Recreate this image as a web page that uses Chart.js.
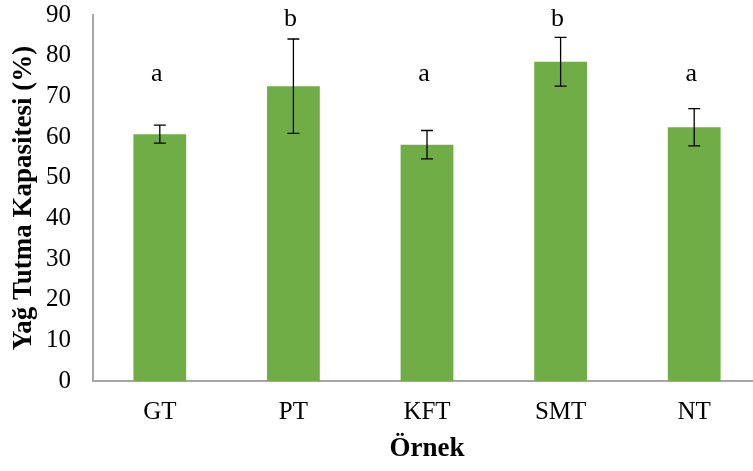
<!DOCTYPE html>
<html>
<head>
<meta charset="utf-8">
<script src="https://cdn.jsdelivr.net/npm/chart.js@4.4.1/dist/chart.umd.min.js"></script>
<style>
  html, body { margin: 0; padding: 0; background: #fff; overflow: hidden; }
  #wrap { width: 761px; height: 471px; }
</style>
</head>
<body>
<div id="wrap"><canvas id="c" width="761" height="471"></canvas></div>
<script>
// data
var categories = ["GT", "PT", "KFT", "SMT", "NT"];
var values = [60.7, 72.5, 58.1, 78.5, 62.4];
var errors = [2.2, 11.6, 3.5, 6.0, 4.6];
var letters = ["a", "b", "a", "b", "a"];
var yTicks = [0, 10, 20, 30, 40, 50, 60, 70, 80, 90];

var serif = "'Liberation Serif', 'Times New Roman', serif";

// error bars + significance letters
var extras = {
  id: "extras",
  afterDatasetsDraw: function (chart) {
    var ctx = chart.ctx;
    var x = chart.scales.x, y = chart.scales.y;
    ctx.save();
    ctx.strokeStyle = "#000";
    ctx.lineWidth = 1.3;
    for (var i = 0; i < values.length; i++) {
      var cx = x.getPixelForValue(i);
      var top = y.getPixelForValue(values[i] + errors[i]);
      var bot = y.getPixelForValue(values[i] - errors[i]);
      ctx.beginPath();
      ctx.moveTo(cx, top); ctx.lineTo(cx, bot);
      ctx.moveTo(cx - 6, top); ctx.lineTo(cx + 6, top);
      ctx.moveTo(cx - 6, bot); ctx.lineTo(cx + 6, bot);
      ctx.stroke();
    }
    ctx.fillStyle = "#000";
    ctx.font = "26px " + serif;
    ctx.textAlign = "center";
    ctx.textBaseline = "alphabetic";
    for (var j = 0; j < letters.length; j++) {
      var lv = letters[j] == "b" ? 87.3 : 73.7; // letter heights on the value axis
      ctx.fillText(letters[j], x.getPixelForValue(j) - 3, y.getPixelForValue(lv));
    }
    ctx.restore();
  }
};

new Chart(document.getElementById("c"), {
  type: "bar",
  data: {
    labels: categories,
    datasets: [{
      data: values,
      backgroundColor: "#70ad47",
      borderWidth: 0,
      barPercentage: 0.395,
      categoryPercentage: 1.0
    }]
  },
  options: {
    responsive: false,
    animation: false,
    layout: { padding: { top: 15, right: 0, left: 0, bottom: 0 } },
    plugins: { legend: { display: false }, tooltip: { enabled: false } },
    scales: {
      x: {
        grid: { display: false, drawTicks: false, tickLength: 0 },
        border: { display: true, color: "#a6a6a6", width: 2 },
        ticks: { color: "#000", font: { family: serif, size: 25 }, padding: 16 },
        title: {
          display: true, text: "Örnek", color: "#000",
          font: { family: serif, size: 27, weight: "bold" }, padding: { top: 0, bottom: 6 }
        },
        afterFit: function (s) { s.height = 90; s.paddingLeft = 0; s.paddingRight = 0; }
      },
      y: {
        min: 0, max: 90,
        afterBuildTicks: function (s) { s.ticks = yTicks.map(function (v) { return { value: v }; }); },
        grid: { display: false, drawTicks: false, tickLength: 0 },
        border: { display: true, color: "#a6a6a6", width: 2 },
        ticks: { color: "#000", font: { family: serif, size: 25 }, padding: 22 },
        title: {
          display: true, text: "Yağ Tutma Kapasitesi (%)", color: "#000",
          font: { family: serif, size: 27, weight: "bold" }, padding: { top: 8, bottom: 0 }
        },
        afterFit: function (s) { s.width = 93; s.paddingTop = 0; s.paddingBottom = 0; }
      }
    }
  },
  plugins: [extras]
});
</script>
</body>
</html>
